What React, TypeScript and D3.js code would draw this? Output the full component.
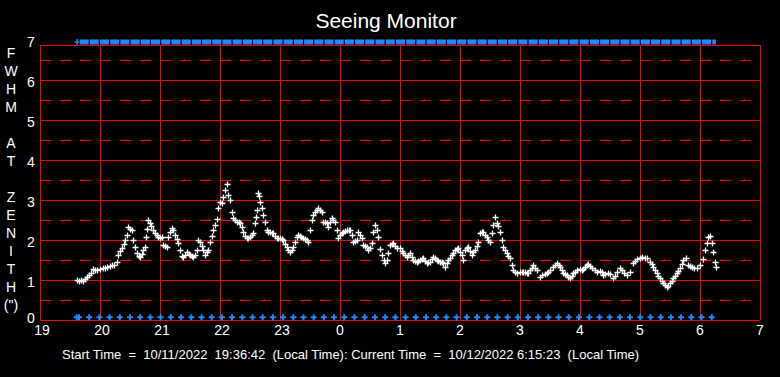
import React from "react";
import * as d3 from "d3";

// time in minutes after 19:00 (local), FWHM at zenith in arcsec
const seeing: [number, number][] = [
  [37, 1.0], [39, 0.98], [41, 1.0], [43, 0.97], [45, 1.02], [47, 1.08], [49, 1.12], [51, 1.18], [53, 1.27], [55, 1.25],
  [57, 1.24], [60, 1.27], [63, 1.3], [65, 1.31], [67, 1.33], [70, 1.34], [72, 1.37], [74, 1.38], [77, 1.46], [78, 1.62],
  [80, 1.72], [82, 1.8], [84, 1.9], [85, 2.0], [87, 2.12], [88, 2.33], [90, 2.28], [92, 2.25], [93, 2.0], [95, 1.83],
  [97, 1.67], [99, 1.6], [100, 1.57], [102, 1.65], [103, 1.75], [105, 1.83], [106, 2.08], [107, 2.27], [108, 2.5], [110, 2.42],
  [111, 2.35], [113, 2.25], [115, 2.17], [117, 2.12], [118, 2.08], [120, 2.06], [122, 2.08], [123, 1.87], [125, 1.85], [127, 1.83],
  [128, 2.08], [130, 2.2], [132, 2.29], [133, 2.25], [135, 2.12], [137, 2.02], [138, 1.92], [140, 1.75], [142, 1.6], [143, 1.58],
  [145, 1.62], [147, 1.7], [149, 1.65], [150, 1.62], [152, 1.6], [153, 1.57], [155, 1.62], [157, 1.75], [158, 2.0], [160, 1.96],
  [162, 1.85], [163, 1.75], [165, 1.62], [167, 1.7], [168, 1.75], [170, 1.96], [172, 2.1], [173, 2.25], [175, 2.37], [177, 2.52],
  [178, 2.8], [180, 2.96], [182, 2.92], [183, 3.08], [185, 3.25], [187, 3.4], [188, 3.12], [190, 3.0], [192, 2.71], [193, 2.54],
  [195, 2.5], [197, 2.46], [199, 2.45], [200, 2.42], [202, 2.33], [203, 2.2], [205, 2.1], [207, 2.04], [208, 2.06], [210, 2.08],
  [212, 2.12], [213, 2.17], [215, 2.42], [216, 2.58], [217, 2.75], [218, 3.17], [219, 3.1], [220, 2.96], [222, 2.8], [223, 2.62],
  [225, 2.46], [227, 2.25], [228, 2.2], [230, 2.2], [232, 2.18], [233, 2.17], [235, 2.1], [237, 2.04], [238, 2.05], [240, 2.04],
  [242, 2.02], [243, 2.0], [245, 1.9], [247, 1.83], [248, 1.75], [250, 1.7], [252, 1.75], [253, 1.83], [255, 1.95], [257, 2.08],
  [258, 2.12], [260, 2.1], [261, 2.08], [263, 2.04], [265, 2.02], [267, 2.0], [268, 1.96], [270, 2.25], [272, 2.5], [273, 2.62],
  [275, 2.71], [277, 2.75], [278, 2.79], [280, 2.75], [282, 2.71], [283, 2.46], [285, 2.44], [287, 2.42], [288, 2.33], [290, 2.46],
  [292, 2.54], [293, 2.5], [295, 2.46], [297, 2.25], [298, 2.04], [300, 2.12], [302, 2.18], [303, 2.2], [305, 2.22], [307, 2.25],
  [309, 2.24], [310, 2.25], [312, 2.12], [313, 1.96], [315, 1.98], [317, 2.0], [318, 2.2], [320, 2.12], [322, 2.04], [323, 1.87],
  [325, 1.85], [327, 1.83], [328, 1.75], [330, 1.8], [332, 1.92], [333, 2.2], [335, 2.37], [337, 2.25], [338, 2.08], [340, 1.77],
  [342, 1.62], [344, 1.5], [345, 1.43], [347, 1.5], [348, 1.67], [350, 1.87], [352, 1.9], [353, 1.92], [355, 1.85], [357, 1.8],
  [360, 1.8], [362, 1.72], [363, 1.67], [365, 1.62], [367, 1.58], [368, 1.62], [370, 1.67], [372, 1.58], [373, 1.5], [375, 1.48],
  [377, 1.46], [378, 1.47], [380, 1.5], [382, 1.52], [383, 1.54], [385, 1.48], [387, 1.42], [388, 1.44], [390, 1.46], [392, 1.52],
  [393, 1.57], [395, 1.54], [397, 1.5], [398, 1.48], [400, 1.46], [402, 1.44], [403, 1.42], [405, 1.33], [407, 1.42], [408, 1.5],
  [410, 1.56], [412, 1.62], [413, 1.68], [415, 1.75], [417, 1.78], [418, 1.8], [420, 1.7], [422, 1.62], [423, 1.5], [425, 1.75],
  [427, 1.8], [428, 1.83], [430, 1.72], [432, 1.62], [433, 1.7], [435, 1.75], [437, 1.85], [438, 1.96], [440, 2.17], [442, 2.2],
  [443, 2.2], [445, 2.12], [447, 2.08], [448, 2.0], [450, 1.96], [452, 2.17], [453, 2.37], [455, 2.58], [457, 2.42], [458, 2.35],
  [460, 2.2], [462, 2.0], [463, 1.83], [465, 1.75], [467, 1.67], [468, 1.6], [470, 1.54], [472, 1.37], [473, 1.25], [475, 1.21],
  [477, 1.17], [480, 1.21], [482, 1.19], [483, 1.2], [485, 1.21], [487, 1.18], [488, 1.17], [490, 1.25], [492, 1.29], [493, 1.37],
  [495, 1.3], [497, 1.25], [500, 1.08], [502, 1.12], [505, 1.15], [507, 1.17], [508, 1.21], [510, 1.25], [513, 1.33], [515, 1.38],
  [517, 1.43], [519, 1.38], [520, 1.33], [522, 1.25], [523, 1.17], [525, 1.15], [527, 1.12], [528, 1.08], [530, 1.04], [532, 1.1],
  [533, 1.17], [535, 1.21], [537, 1.25], [540, 1.27], [542, 1.25], [543, 1.27], [545, 1.33], [547, 1.37], [548, 1.4], [550, 1.35],
  [552, 1.29], [555, 1.25], [557, 1.21], [560, 1.22], [562, 1.2], [563, 1.12], [565, 1.15], [568, 1.18], [570, 1.15], [573, 1.04],
  [575, 1.1], [577, 1.21], [580, 1.29], [582, 1.25], [584, 1.18], [587, 1.12], [590, 1.2], [593, 1.42], [595, 1.48], [597, 1.52],
  [600, 1.56], [602, 1.58], [605, 1.56], [607, 1.54], [610, 1.46], [612, 1.4], [613, 1.33], [615, 1.25], [617, 1.17], [618, 1.1],
  [620, 1.04], [622, 0.98], [623, 0.92], [625, 0.88], [627, 0.83], [628, 0.86], [630, 0.92], [632, 0.98], [633, 1.04], [635, 1.1],
  [637, 1.17], [638, 1.23], [640, 1.29], [642, 1.4], [643, 1.5], [646, 1.54], [648, 1.37], [650, 1.35], [652, 1.33], [654, 1.3],
  [657, 1.29], [660, 1.37], [663, 1.52], [665, 1.75], [667, 1.92], [668, 2.08], [670, 2.1], [672, 1.92], [673, 1.71], [675, 1.46],
  [676, 1.33],
];

// status marks (minutes after 19:00)
const statusMinutes: number[] = [
  36.7, 39, 49.2, 59.4, 69.6, 79.8, 90.0, 100.2, 110.4, 120.6, 130.8, 141.1, 151.3, 161.5, 171.7, 181.9, 192.1, 202.3, 212.5,
  222.7, 232.9, 243.1, 253.3, 263.5, 273.7, 283.9, 294.1, 304.3, 314.5, 324.7, 334.9, 345.2, 355.4, 365.6, 375.8, 386.0,
  396.2, 406.4, 416.6, 426.8, 437.0, 447.2, 457.4, 467.6, 477.8, 488.0, 498.2, 508.4, 518.6, 528.8, 539.0, 549.3, 559.5,
  569.7, 579.9, 590.1, 600.3, 610.5, 620.7, 630.9, 641.1, 651.3, 661.5, 671.7, 676.5,
];
const topStatusValue = 7.0;
const bottomStatusValue = 0.07;

const hourLabels: string[] = ["19", "20", "21", "22", "23", "0", "1", "2", "3", "4", "5", "6", "7"];
const yTicks: number[] = [0, 1, 2, 3, 4, 5, 6, 7];
const yHalfTicks: number[] = [0.5, 1.5, 2.5, 3.5, 4.5, 5.5, 6.5];
const yAxisLetters: string[] = ["F", "W", "H", "M", "", "A", "T", "", "Z", "E", "N", "I", "T", "H", "(\")"];
const title = "Seeing Monitor";
const footer = "Start Time  =  10/11/2022  19:36:42  (Local Time): Current Time  =  10/12/2022 6:15:23  (Local Time)";

const W = 780;
const H = 377;
const FONT = "'Liberation Sans', Arial, sans-serif";

export default function App() {
  const x = d3.scaleLinear().domain([0, 720]).range([40, 760]);
  const y = d3.scaleLinear().domain([0, 7]).range([320, 40]);
  const frameTop = 45;
  const px = (v: number) => Math.round(v) + 0.5;

  const crossPath = seeing
    .map(([m, v]) => {
      const cx = px(x(m));
      const cy = px(y(v));
      return `M${cx - 3},${cy}H${cx + 3}M${cx},${cy - 3}V${cy + 3}`;
    })
    .join("");

  const bottomCross = statusMinutes
    .slice(0, -1)
    .map((m) => {
      const cx = x(m);
      const cy = y(bottomStatusValue);
      return `M${cx - 3},${cy}H${cx + 3}M${cx},${cy - 3}V${cy + 3}`;
    })
    .join("");

  const topY = y(topStatusValue);

  return (
    <svg
      width={W}
      height={H}
      style={{ position: "absolute", left: 0, top: 0, background: "#000" }}
      fontFamily={FONT}
    >
      <rect x={0} y={0} width={W} height={H} fill="#000" />
      <text x={386} y={28} fill="#fff" fontSize={21} textAnchor="middle">
        {title}
      </text>

      {/* dashed half lines */}
      <g stroke="#ff0000" strokeWidth={1} strokeDasharray="11,9" shapeRendering="crispEdges">
        {yHalfTicks.map((v) => (
          <line key={v} x1={40} x2={760} y1={px(y(v))} y2={px(y(v))} />
        ))}
      </g>
      {/* solid lines */}
      <g stroke="#ff0000" strokeWidth={1} shapeRendering="crispEdges">
        {yTicks
          .filter((v) => v > 0 && v < 7)
          .map((v) => (
            <line key={v} x1={40} x2={760} y1={px(y(v))} y2={px(y(v))} />
          ))}
        {hourLabels.map((_, i) => (
          <line key={i} x1={px(x(i * 60))} x2={px(x(i * 60))} y1={frameTop} y2={320} />
        ))}
        <line x1={40} x2={760} y1={px(frameTop)} y2={px(frameTop)} />
        <line x1={40} x2={760} y1={px(320)} y2={px(320)} />
      </g>

      {/* top status band */}
      <g fill="#1e88ff">
        {statusMinutes.slice(1, -1).map((m, i) => {
          const x0 = x(m) + 0.6;
          const x1 = x(statusMinutes[i + 2]) - 0.6;
          return <rect key={i} x={x0} y={topY - 0.5} width={Math.max(0, x1 - x0)} height={5} />;
        })}
      </g>
      <path
        d={`M${x(statusMinutes[0]) - 2},${topY + 2}H${x(statusMinutes[1])}M${x(statusMinutes[0]) + 0.5},${topY - 1}V${topY + 5}`}
        stroke="#1e88ff"
        strokeWidth={1.5}
        fill="none"
      />
      {/* bottom status crosses */}
      <path d={bottomCross} stroke="#1e88ff" strokeWidth={2} fill="none" />

      {/* seeing data */}
      <path d={crossPath} stroke="#fff" strokeWidth={1.3} fill="none" />

      {/* y tick labels */}
      <g fill="#fff" fontSize={14} textAnchor="middle">
        {yTicks.map((v) => (
          <text key={v} x={31} y={y(v) + (v === 0 ? 3 : 6.5)}>
            {v}
          </text>
        ))}
      </g>
      {/* x tick labels */}
      <g fill="#fff" fontSize={14} textAnchor="middle">
        {hourLabels.map((l, i) => (
          <text key={i} x={x(i * 60) + (l.length > 1 ? 2 : 0)} y={335}>
            {l}
          </text>
        ))}
      </g>
      {/* y axis title letters */}
      <g fill="#fff" fontSize={14} textAnchor="middle">
        {yAxisLetters.map((c, i) => (
          <text key={i} x={11} y={58 + i * 18}>
            {c}
          </text>
        ))}
      </g>
      <text x={62} y={359} fill="#fff" fontSize={13} style={{ whiteSpace: "pre" }}>
        {footer}
      </text>
    </svg>
  );
}
